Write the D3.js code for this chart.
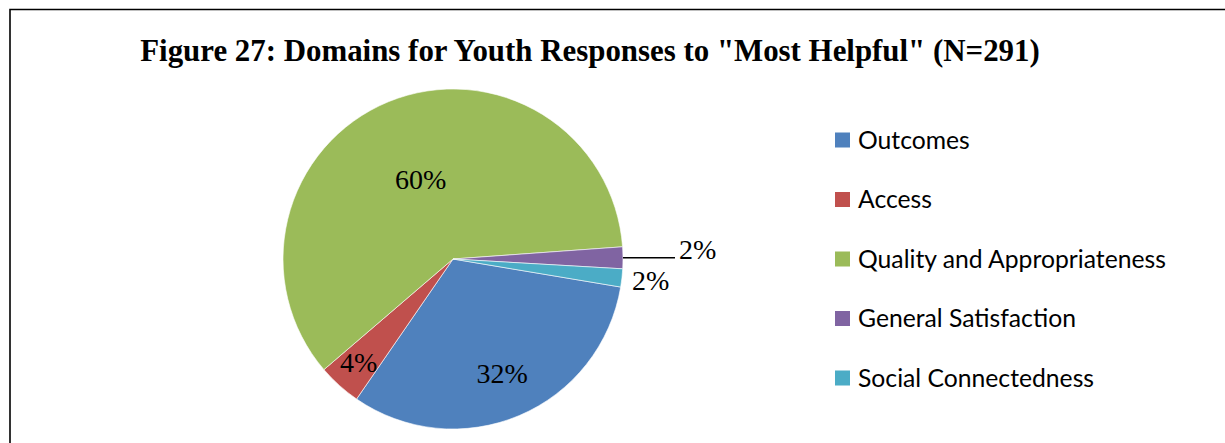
<!DOCTYPE html>
<html lang="en">
<head>
    <meta charset="UTF-8">
    <title>Figure 27</title>
    <script src="https://d3js.org/d3.v7.min.js"></script>
    <style>
        body { margin: 0; background: #fff; }
        .title { font-family: "Liberation Serif", serif; font-weight: bold; }
        .pct { font-family: "Liberation Serif", serif; fill: #000; }
        .legend text { font-family: Lato, "Open Sans", sans-serif; fill: #000; }
    </style>
</head>
<body>
    <div id="chart"></div>
    <script>
        // data (counts out of N=291)
        const categories = ["Outcomes", "Access", "Quality and Appropriateness", "General Satisfaction", "Social Connectedness"];
        const counts = [93, 12, 175, 6, 5];
        const colors = ["#4F81BD", "#C0504D", "#9BBB59", "#8064A2", "#4BACC6"];
        const titleText = 'Figure 27: Domains for Youth Responses to "Most Helpful" (N=291)';

        const width = 1225, height = 443;
        const cx = 453, cy = 259, r = 170;

        const svg = d3.select("#chart")
            .append("svg")
            .attr("width", width)
            .attr("height", height);

        // frame (top + left edge visible)
        svg.append("path")
            .attr("d", "M10,443 L10,9.5 L1225,9.5")
            .attr("fill", "none")
            .attr("stroke", "#000")
            .attr("stroke-width", 1.6);

        // title, sized to span the same width as the original
        const title = svg.append("text")
            .attr("class", "title")
            .attr("x", 590)
            .attr("y", 61)
            .attr("text-anchor", "middle")
            .style("font-size", "27px")
            .text(titleText);
        const tw = title.node().getComputedTextLength();
        title.style("font-size", Math.min(31, 27 * 900 / tw) + "px");

        const total = d3.sum(counts);
        const pie = d3.pie()
            .sort(null)
            .startAngle(99.5 * Math.PI / 180)
            .endAngle(99.5 * Math.PI / 180 + 2 * Math.PI);
        const arcs = pie(counts);

        const arc = d3.arc().innerRadius(0).outerRadius(r);

        const g = svg.append("g").attr("transform", `translate(${cx},${cy})`);

        g.selectAll("path.slice")
            .data(arcs)
            .join("path")
            .attr("class", "slice")
            .attr("d", arc)
            .attr("fill", (d, i) => colors[i])
            .attr("stroke", "#fff")
            .attr("stroke-width", 0.6);

        // label distance from the centre, as a fraction of the radius
        const labelFactor = [0.74, 0.83, 0.5, null, 1.17];

        function pt(a, rad) {
            return [Math.sin(a) * rad, -Math.cos(a) * rad];
        }

        arcs.forEach((d, i) => {
            const mid = (d.startAngle + d.endAngle) / 2;
            const txt = Math.round(d.value / total * 100) + "%";
            if (labelFactor[i] === null) {
                // leader line out to the right
                const p0 = pt(mid, r);
                g.append("line")
                    .attr("x1", p0[0]).attr("y1", p0[1])
                    .attr("x2", p0[0] + 52).attr("y2", p0[1])
                    .attr("stroke", "#000")
                    .attr("stroke-width", 1.5);
                g.append("text")
                    .attr("class", "pct")
                    .attr("x", p0[0] + 56)
                    .attr("y", p0[1] + 1)
                    .style("font-size", "28px")
                    .text(txt);
            } else {
                const p = pt(mid, r * labelFactor[i]);
                g.append("text")
                    .attr("class", "pct")
                    .attr("x", p[0])
                    .attr("y", p[1])
                    .attr("dy", "0.3em")
                    .attr("text-anchor", "middle")
                    .style("font-size", "28px")
                    .text(txt);
            }
        });

        // legend
        const legendY = d3.scalePoint()
            .domain(categories)
            .range([140, 378]);

        const legend = svg.append("g").attr("class", "legend");
        const items = legend.selectAll("g")
            .data(categories)
            .join("g")
            .attr("transform", d => `translate(835,${legendY(d)})`);

        items.append("rect")
            .attr("x", 0)
            .attr("y", -7.5)
            .attr("width", 15)
            .attr("height", 15)
            .attr("fill", (d, i) => colors[i]);

        const labels = items.append("text")
            .attr("x", 23)
            .attr("dy", "0.36em")
            .style("font-size", "22px")
            .text(d => d);

        // fit legend font so the longest entry matches the original width
        const longest = d3.max(labels.nodes(), n => n.getComputedTextLength());
        labels.style("font-size", (22 * 308 / longest) + "px");
    </script>
</body>
</html>
